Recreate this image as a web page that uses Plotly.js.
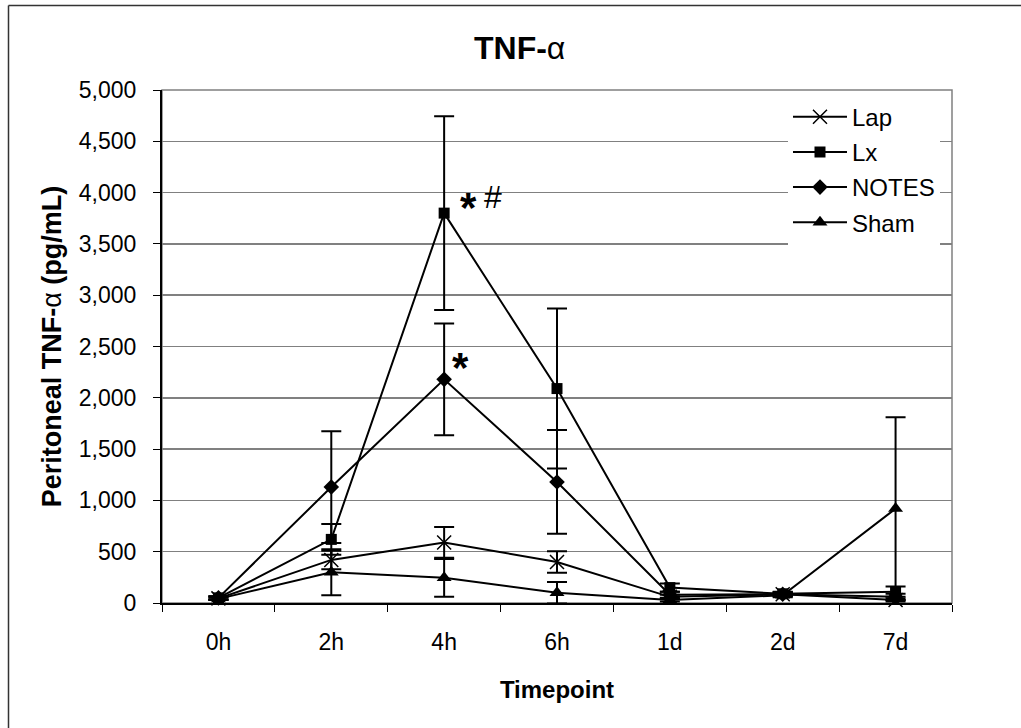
<!DOCTYPE html>
<html>
<head>
<meta charset="utf-8">
<script src="https://cdn.plot.ly/plotly-3.0.1.min.js"></script>
<style>html,body{margin:0;padding:0;background:#fff;}</style>
</head>
<body>
<div id="chart" style="width:1021px;height:728px;"></div>
<script>
var categories = ['0h', '2h', '4h', '6h', '1d', '2d', '7d'];
var lapValues = [45, 420, 590, 400, 60, 85, 30];
var lapErrors = [15, 90, 150, 105, 20, 20, 15];
var lxValues = [50, 620, 3800, 2090, 150, 90, 110];
var lxErrors = [15, 150, 945, 780, 40, 20, 50];
var notesValues = [50, 1130, 2180, 1180, 80, 85, 60];
var notesErrors = [15, 545, 545, 505, 30, 20, 30];
var shamValues = [40, 300, 245, 100, 30, 75, 920];
var shamErrors = [10, 225, 185, 105, 15, 20, 890];
var yTickValues = [0, 500, 1000, 1500, 2000, 2500, 3000, 3500, 4000, 4500, 5000];

var FONT = '"Liberation Sans", Arial, sans-serif';

function series(name, y, err, symbol, size, group) {
  return {
    type: 'scatter', mode: 'lines+markers', name: name, legendgroup: group,
    x: categories, y: y,
    line: {color: '#000', width: 2},
    marker: {symbol: symbol, size: size, color: '#000', line: {color: '#000', width: symbol.indexOf('open') >= 0 ? 1.5 : 0}},
    error_y: {type: 'data', array: err, symmetric: true, color: '#000', thickness: 2, width: 10, visible: true},
    cliponaxis: false
  };
}

var traces = [
  series('Lap', lapValues, lapErrors, 'x-thin-open', 14, 'g1'),
  series('Lx', lxValues, lxErrors, 'square', 11, 'g2'),
  series('NOTES', notesValues, notesErrors, 'diamond', 12, 'g3'),
  series('Sham', shamValues, shamErrors, 'triangle-up', 13, 'g4')
];

var layout = {
  width: 1021, height: 728,
  margin: {l: 162, r: 69, t: 90, b: 125},
  paper_bgcolor: '#fff', plot_bgcolor: '#fff',
  font: {family: FONT, color: '#000', size: 23},
  title: {text: '<b>TNF-</b>α', font: {family: FONT, size: 32, color: '#000'},
          x: 0.509, xref: 'container', xanchor: 'center', y: 0.935, yref: 'container', yanchor: 'middle'},
  xaxis: {
    type: 'category', categoryarray: categories, range: [-0.5, 6.5],
    showline: true, linecolor: '#000', linewidth: 2,
    ticks: 'outside', tickson: 'boundaries', ticklen: 7, tickcolor: '#000', tickwidth: 1,
    showgrid: false, zeroline: false,
    tickfont: {family: FONT, size: 23, color: '#000'},
    ticklabelstandoff: 17,
    title: {text: '<b>Timepoint</b>', font: {family: FONT, size: 24, color: '#000'}, standoff: 28}
  },
  yaxis: {
    range: [0, 5000], tickvals: yTickValues, tickformat: ',d',
    showline: true, linecolor: '#000', linewidth: 2,
    ticks: 'outside', ticklen: 7, tickcolor: '#000', tickwidth: 1,
    showgrid: true, gridcolor: '#808080', gridwidth: 1.5, zeroline: false,
    tickfont: {family: FONT, size: 23, color: '#000'},
    ticklabelstandoff: 12,
    title: {text: '<b>Peritoneal TNF-</b>α<b> (pg/mL)</b>', font: {family: FONT, size: 27, color: '#000'}, standoff: 9}
  },
  showlegend: true,
  legend: {
    x: 0.7924, xanchor: 'left', y: 0.991, yanchor: 'top',
    bgcolor: '#fff', borderwidth: 0,
    font: {family: FONT, size: 24, color: '#000'},
    tracegroupgap: 1, itemwidth: 54
  },
  shapes: [
    {type: 'rect', xref: 'paper', yref: 'paper', x0: 0, x1: 1, y0: 0, y1: 1,
     line: {color: '#808080', width: 1.5}, layer: 'below'},
    {type: 'line', xref: 'paper', yref: 'paper', x0: -0.1943, x1: -0.1943, y0: 1.1647, y1: -0.26,
     line: {color: '#333', width: 1.5}},
    {type: 'line', xref: 'paper', yref: 'paper', x0: -0.1943, x1: 1.1, y0: 1.1647, y1: 1.1647,
     line: {color: '#333', width: 1.5}}
  ],
  annotations: [
    {xref: 'x', yref: 'y', x: categories[2], y: lxValues[2], text: '<b>*</b>', showarrow: false,
     font: {family: FONT, size: 42, color: '#000'}, xanchor: 'center', yanchor: 'middle', xshift: 24, yshift: 6},
    {xref: 'x', yref: 'y', x: categories[2], y: lxValues[2], text: '#', showarrow: false,
     font: {family: FONT, size: 32, color: '#000'}, xanchor: 'center', yanchor: 'middle', xshift: 49, yshift: 16},
    {xref: 'x', yref: 'y', x: categories[2], y: notesValues[2], text: '<b>*</b>', showarrow: false,
     font: {family: FONT, size: 42, color: '#000'}, xanchor: 'center', yanchor: 'middle', xshift: 16, yshift: 12}
  ]
};

Plotly.newPlot('chart', traces, layout, {displayModeBar: false, staticPlot: true});
</script>
</body>
</html>
